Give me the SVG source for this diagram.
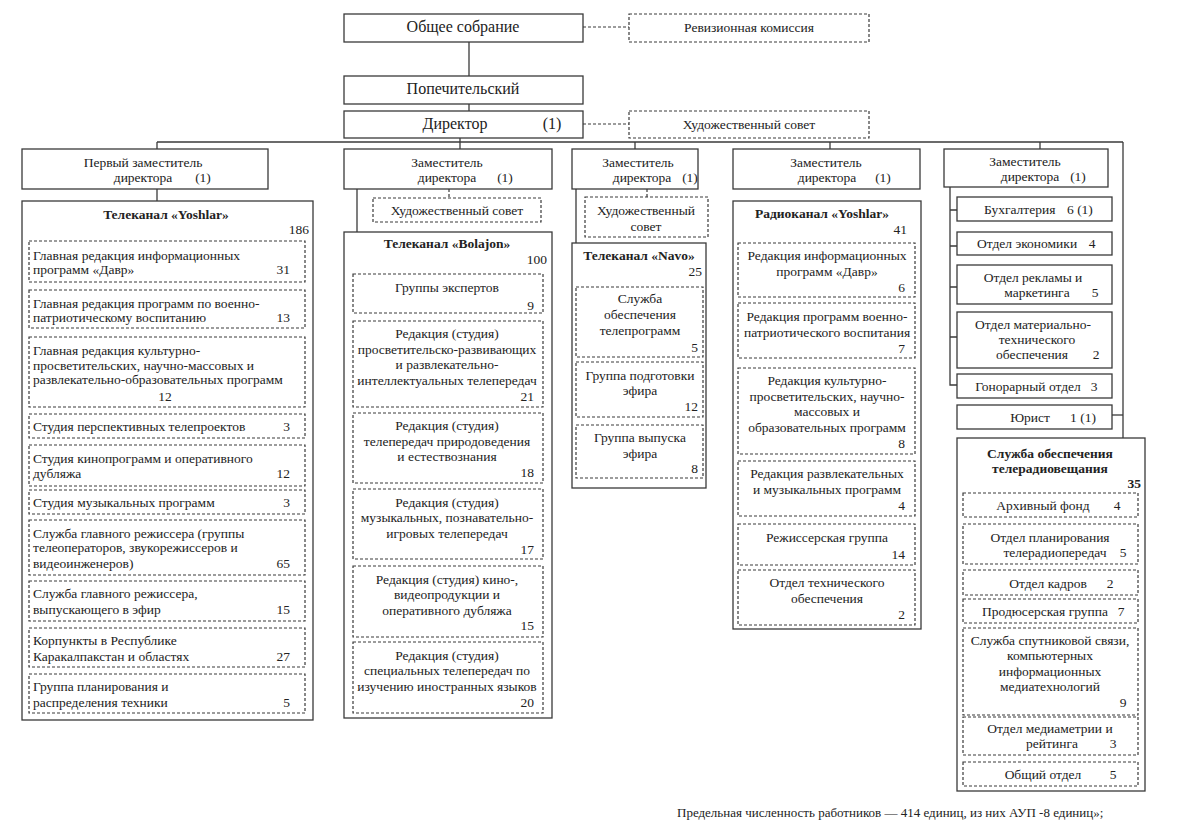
<svg xmlns="http://www.w3.org/2000/svg" width="1178" height="837" viewBox="0 0 1178 837">
<style>
text{font-family:"Liberation Serif","Times New Roman",serif;font-size:13.5px;fill:#222}
.b{font-weight:bold}
.c{text-anchor:middle}
.e{text-anchor:end}
.big{font-size:16px}
.s{fill:#fff;stroke:#3a3a3a;stroke-width:1.3}
.d{fill:#fff;stroke:#3a3a3a;stroke-width:1.2;stroke-dasharray:3 2}
.l{stroke:#3a3a3a;stroke-width:1.3;fill:none}
.dl{stroke:#3a3a3a;stroke-width:1.2;fill:none;stroke-dasharray:3 2}
</style>
<rect width="1178" height="837" fill="#fff"/>
<g id="connectors">
<line class="l" x1="469" y1="42" x2="469" y2="76"/>
<line class="l" x1="469" y1="104" x2="469" y2="111"/>
<line class="dl" x1="583" y1="27" x2="629" y2="27"/>
<line class="dl" x1="583" y1="124" x2="629" y2="124"/>
<line class="l" x1="157" y1="142" x2="1123" y2="142"/>
<line class="l" x1="460" y1="137" x2="460" y2="149"/>
<line class="l" x1="157" y1="142" x2="157" y2="149"/>
<line class="l" x1="635" y1="142" x2="635" y2="149"/>
<line class="l" x1="830" y1="142" x2="830" y2="149"/>
<line class="l" x1="1040" y1="142" x2="1040" y2="149"/>
<line class="l" x1="1123" y1="142" x2="1123" y2="438"/>
<line class="l" x1="157" y1="189" x2="157" y2="201"/>
<line class="l" x1="357" y1="189" x2="357" y2="232"/>
<line class="dl" x1="449" y1="189" x2="449" y2="198"/>
<line class="l" x1="576" y1="189" x2="576" y2="243"/>
<line class="dl" x1="647" y1="189" x2="647" y2="197"/>
<path class="l" d="M950 187 V385 H957 M950 210 H957 M950 246 H957 M950 287 H957 M950 337 H957"/>
<line class="l" x1="1111" y1="415" x2="1123" y2="415"/>
</g>
<g id="obshee"><rect class="s" x="344" y="14" width="239" height="28"/><text class="c big" x="463" y="32">Общее собрание</text></g>
<g id="revizion"><rect class="d" x="629" y="14" width="240" height="28"/><text class="c" x="749" y="32">Ревизионная комиссия</text></g>
<g id="popech"><rect class="s" x="344" y="76" width="239" height="28"/><text class="c big" x="463" y="94">Попечительский</text></g>
<g id="director"><rect class="s" x="344" y="111" width="239" height="27"/><text class="c big" x="455" y="129">Директор</text><text class="c big" x="552" y="129">(1)</text></g>
<g id="hudsovet-top"><rect class="d" x="629" y="111" width="240" height="27"/><text class="c" x="749" y="129">Художественный совет</text></g>

<g id="zam1"><rect class="s" x="22" y="149" width="246" height="40"/><text class="c" x="143" y="167">Первый заместитель</text><text class="c" x="143" y="182">директора</text><text class="c" x="203" y="182">(1)</text></g>
<g id="yoshlar-tv"><rect class="s" x="22" y="201" width="291" height="519"/><text class="c b" x="166" y="219">Телеканал «Yoshlar»</text><text class="e" x="309" y="234">186</text>
<rect class="d" x="29" y="241" width="276" height="41"/><text x="33" y="260">Главная редакция информационных</text><text x="33" y="274">программ «Давр»</text><text class="e" x="290" y="274">31</text>
<rect class="d" x="29" y="290" width="276" height="38"/><text x="33" y="308">Главная редакция программ по военно-</text><text x="33" y="322">патриотическому воспитанию</text><text class="e" x="290" y="322">13</text>
<rect class="d" x="29" y="337" width="276" height="70"/><text x="33" y="355">Главная редакция культурно-</text><text x="33" y="370">просветительских, научно-массовых и</text><text x="33" y="384">развлекательно-образовательных программ</text><text class="c" x="165" y="401">12</text>
<rect class="d" x="29" y="414" width="276" height="24"/><text x="33" y="431">Студия перспективных телепроектов</text><text class="e" x="290" y="431">3</text>
<rect class="d" x="29" y="445" width="276" height="41"/><text x="33" y="463">Студия кинопрограмм и оперативного</text><text x="33" y="478">дубляжа</text><text class="e" x="290" y="478">12</text>
<rect class="d" x="29" y="490" width="276" height="24"/><text x="33" y="507">Студия музыкальных программ</text><text class="e" x="290" y="507">3</text>
<rect class="d" x="29" y="520" width="276" height="55"/><text x="33" y="538">Служба главного режиссера (группы</text><text x="33" y="552">телеоператоров, звукорежиссеров и</text><text x="33" y="568">видеоинженеров)</text><text class="e" x="290" y="568">65</text>
<rect class="d" x="29" y="581" width="276" height="40"/><text x="33" y="598">Служба главного режиссера,</text><text x="33" y="614">выпускающего в эфир</text><text class="e" x="290" y="614">15</text>
<rect class="d" x="29" y="628" width="276" height="39"/><text x="33" y="645">Корпункты в Республике</text><text x="33" y="661">Каракалпакстан и областях</text><text class="e" x="290" y="661">27</text>
<rect class="d" x="29" y="674" width="276" height="39"/><text x="33" y="691">Группа планирования и</text><text x="33" y="707">распределения техники</text><text class="e" x="290" y="707">5</text>
</g>

<g id="zam2"><rect class="s" x="344" y="149" width="208" height="40"/><text class="c" x="447" y="167">Заместитель</text><text class="c" x="447" y="182">директора</text><text class="c" x="505" y="182">(1)</text></g>
<g id="hudsovet2"><rect class="d" x="373" y="198" width="168" height="24"/><text class="c" x="457" y="215">Художественный совет</text></g>
<g id="bolajon"><rect class="s" x="344" y="232" width="208" height="486"/><text class="c b" x="447" y="248">Телеканал «Bolajon»</text><text class="e" x="547" y="264">100</text>
<rect class="d" x="353" y="274" width="190" height="39"/><text class="c" x="447" y="292">Группы экспертов</text><text class="e" x="534" y="310">9</text>
<rect class="d" x="353" y="321" width="190" height="86"/><text class="c" x="447" y="338">Редакция (студия)</text><text class="c" x="447" y="354">просветительско-развивающих</text><text class="c" x="447" y="369">и развлекательно-</text><text class="c" x="447" y="385">интеллектуальных телепередач</text><text class="e" x="534" y="401">21</text>
<rect class="d" x="353" y="413" width="190" height="70"/><text class="c" x="447" y="430">Редакция (студия)</text><text class="c" x="447" y="446">телепередач природоведения</text><text class="c" x="447" y="461">и естествознания</text><text class="e" x="534" y="477">18</text>
<rect class="d" x="353" y="489" width="190" height="70"/><text class="c" x="447" y="507">Редакция (студия)</text><text class="c" x="447" y="522">музыкальных, познавательно-</text><text class="c" x="447" y="538">игровых телепередач</text><text class="e" x="534" y="554">17</text>
<rect class="d" x="353" y="566" width="190" height="71"/><text class="c" x="447" y="584">Редакция (студия) кино-,</text><text class="c" x="447" y="599">видеопродукции и</text><text class="c" x="447" y="615">оперативного дубляжа</text><text class="e" x="534" y="630">15</text>
<rect class="d" x="353" y="642" width="190" height="71"/><text class="c" x="447" y="660">Редакция (студия)</text><text class="c" x="447" y="675">специальных телепередач по</text><text class="c" x="447" y="691">изучению иностранных языков</text><text class="e" x="534" y="707">20</text>
</g>

<g id="zam3"><rect class="s" x="572" y="149" width="126" height="40"/><text class="c" x="638" y="167">Заместитель</text><text class="c" x="642" y="182">директора</text><text class="c" x="690" y="182">(1)</text></g>
<g id="hudsovet3"><rect class="d" x="585" y="197" width="123" height="40"/><text class="c" x="646" y="215">Художественный</text><text class="c" x="646" y="231">совет</text></g>
<g id="navo"><rect class="s" x="572" y="243" width="134" height="245"/><text class="c b" x="639" y="260">Телеканал «Navo»</text><text class="e" x="702" y="276">25</text>
<rect class="d" x="576" y="287" width="127" height="70"/><text class="c" x="640" y="303">Служба</text><text class="c" x="640" y="319">обеспечения</text><text class="c" x="640" y="335">телепрограмм</text><text class="e" x="698" y="352">5</text>
<rect class="d" x="576" y="362" width="127" height="55"/><text class="c" x="640" y="380">Группа подготовки</text><text class="c" x="640" y="395">эфира</text><text class="e" x="698" y="411">12</text>
<rect class="d" x="576" y="425" width="127" height="53"/><text class="c" x="640" y="442">Группа выпуска</text><text class="c" x="640" y="458">эфира</text><text class="e" x="698" y="473">8</text>
</g>

<g id="zam4"><rect class="s" x="733" y="149" width="187" height="40"/><text class="c" x="826" y="167">Заместитель</text><text class="c" x="827" y="182">директора</text><text class="c" x="883" y="182">(1)</text></g>
<g id="radio"><rect class="s" x="733" y="201" width="188" height="428"/><text class="c b" x="822" y="218">Радиоканал «Yoshlar»</text><text class="e" x="907" y="234">41</text>
<rect class="d" x="738" y="243" width="177" height="54"/><text class="c" x="827" y="260">Редакция информационных</text><text class="c" x="827" y="276">программ «Давр»</text><text class="e" x="905" y="292">6</text>
<rect class="d" x="738" y="303" width="177" height="55"/><text class="c" x="827" y="321">Редакция программ военно-</text><text class="c" x="827" y="337">патриотического воспитания</text><text class="e" x="905" y="353">7</text>
<rect class="d" x="738" y="368" width="177" height="86"/><text class="c" x="827" y="385">Редакция культурно-</text><text class="c" x="827" y="401">просветительских, научно-</text><text class="c" x="827" y="416">массовых и</text><text class="c" x="827" y="432">образовательных программ</text><text class="e" x="905" y="448">8</text>
<rect class="d" x="738" y="461" width="177" height="55"/><text class="c" x="827" y="478">Редакция развлекательных</text><text class="c" x="827" y="494">и музыкальных программ</text><text class="e" x="905" y="510">4</text>
<rect class="d" x="738" y="524" width="177" height="41"/><text class="c" x="827" y="542">Режиссерская группа</text><text class="e" x="905" y="559">14</text>
<rect class="d" x="738" y="570" width="177" height="55"/><text class="c" x="827" y="587">Отдел технического</text><text class="c" x="827" y="603">обеспечения</text><text class="e" x="905" y="619">2</text>
</g>

<g id="zam5"><rect class="s" x="944" y="149" width="164" height="38"/><text class="c" x="1025" y="166">Заместитель</text><text class="c" x="1030" y="181">директора</text><text class="c" x="1078" y="181">(1)</text></g>
<g id="buh"><rect class="s" x="957" y="197" width="155" height="24"/><text x="984" y="214">Бухгалтерия</text><text x="1067" y="214">6 (1)</text></g>
<g id="econ"><rect class="s" x="957" y="232" width="155" height="23"/><text x="977" y="248">Отдел экономики</text><text class="c" x="1092" y="248">4</text></g>
<g id="reklama"><rect class="s" x="957" y="265" width="155" height="39"/><text class="c" x="1033" y="282">Отдел рекламы и</text><text class="c" x="1037" y="297">маркетинга</text><text class="c" x="1095" y="297">5</text></g>
<g id="mto"><rect class="s" x="957" y="312" width="155" height="56"/><text class="c" x="1033" y="329">Отдел материально-</text><text class="c" x="1037" y="344">технического</text><text class="c" x="1032" y="359">обеспечения</text><text class="c" x="1096" y="359">2</text></g>
<g id="gonorar"><rect class="s" x="957" y="374" width="155" height="24"/><text class="c" x="1028" y="391">Гонорарный отдел</text><text class="c" x="1094" y="391">3</text></g>
<g id="yurist"><rect class="s" x="957" y="405" width="155" height="24"/><text class="c" x="1030" y="422">Юрист</text><text class="c" x="1083" y="422">1 (1)</text></g>
<g id="sluzhba"><rect class="s" x="957" y="438" width="188" height="353"/><text class="c b" x="1050" y="458">Служба обеспечения</text><text class="c b" x="1050" y="473">телерадиовещания</text><text class="e b" x="1141" y="488">35</text>
<rect class="d" x="963" y="493" width="175" height="24"/><text class="c" x="1043" y="510">Архивный фонд</text><text class="c" x="1117" y="510">4</text>
<rect class="d" x="963" y="524" width="175" height="40"/><text class="c" x="1050" y="542">Отдел планирования</text><text class="c" x="1055" y="557">телерадиопередач</text><text class="c" x="1123" y="557">5</text>
<rect class="d" x="963" y="570" width="175" height="25"/><text class="c" x="1048" y="588">Отдел кадров</text><text class="c" x="1110" y="588">2</text>
<rect class="d" x="963" y="599" width="175" height="24"/><text class="c" x="1045" y="616">Продюсерская группа</text><text class="c" x="1121" y="616">7</text>
<rect class="d" x="963" y="628" width="175" height="87"/><text class="c" x="1050" y="645">Служба спутниковой связи,</text><text class="c" x="1050" y="660">компьютерных</text><text class="c" x="1050" y="676">информационных</text><text class="c" x="1050" y="691">медиатехнологий</text><text class="c" x="1123" y="707">9</text>
<rect class="d" x="963" y="717" width="175" height="38"/><text class="c" x="1050" y="733">Отдел медиаметрии и</text><text class="c" x="1052" y="748">рейтинга</text><text class="c" x="1113" y="748">3</text>
<rect class="d" x="963" y="762" width="175" height="24"/><text class="c" x="1043" y="779">Общий отдел</text><text class="c" x="1113" y="779">5</text>
</g>
<text x="677" y="817" style="font-size:13px">Предельная численность работников — 414 единиц, из них АУП -8 единиц»;</text>
</svg>
